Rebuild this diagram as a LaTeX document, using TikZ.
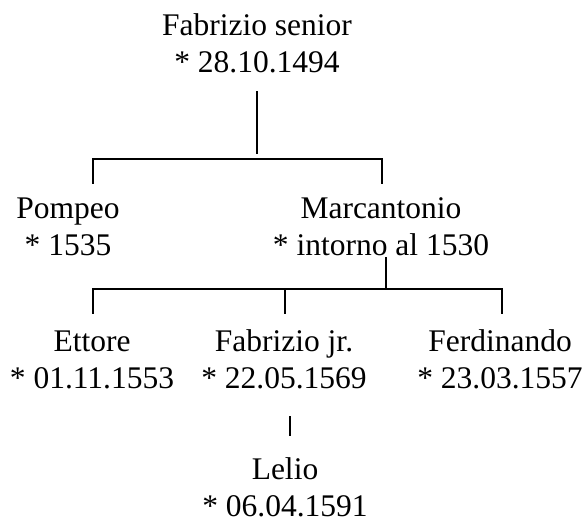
\documentclass[tikz,border=0pt]{standalone}
\usepackage{fontspec}
\setmainfont{Liberation Serif}
\usetikzlibrary{positioning}
\tikzset{
  person/.style={align=center, inner sep=0pt, anchor=base, font=\fontsize{31.5}{37}\selectfont},
  branch/.style={line width=1.8pt, line cap=rect}
}

\begin{document}
\begin{tikzpicture}[x=1pt, y=-1pt]
\useasboundingbox (0,0) rectangle (586,522);

% first generation
\node[person] (fsen) at (257,72) {Fabrizio senior\\* 28.10.1494};

% second generation
\node[person] (pompeo) at (68,255) {Pompeo\\* 1535};
\node[person] (marc) at (381,255) {Marcantonio\\* intorno al 1530};

% third generation
\node[person] (ettore) at (92,388) {Ettore\\* 01.11.1553};
\node[person] (fabjr) at (284,388) {Fabrizio jr.\\* 22.05.1569};
\node[person] (ferd) at (500,388) {Ferdinando\\* 23.03.1557};

% fourth generation
\node[person] (lelio) at (285,516) {Lelio\\* 06.04.1591};

% branches
\coordinate (fsdown) at (257,92);
\coordinate (bar1) at (257,159);
\coordinate (pomtop) at (93,183);
\coordinate (marctop) at (382,183);
\draw[branch] (fsdown) -- ([yshift=6pt]bar1);
\draw[branch] (pomtop) |- (bar1) -| (marctop);

\coordinate (marcdown) at (386,258);
\coordinate (bar2) at (386,289);
\coordinate (etttop) at (93,313);
\coordinate (fabtop) at (285,313);
\coordinate (ferdtop) at (502,313);
\draw[branch] (marcdown) -- (bar2);
\draw[branch] (etttop) |- (bar2) -| (ferdtop);
\draw[branch] (fabtop) -- (fabtop |- bar2);

\coordinate (fabdown) at (290,417);
\coordinate (leliotop) at (290,435);
\draw[branch] (fabdown) -- (leliotop);
\end{tikzpicture}
\end{document}
